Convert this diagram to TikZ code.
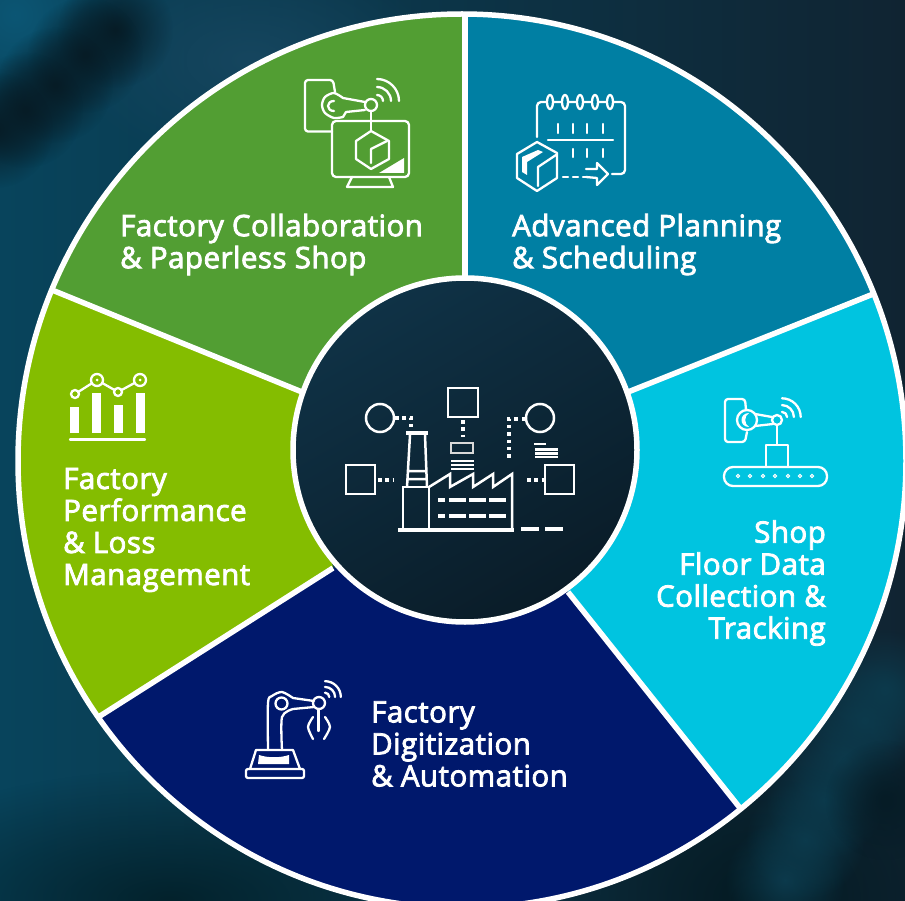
\documentclass[tikz,border=0pt]{standalone}
\usepackage{fontspec}
\setmainfont{Open Sans}[RawFeature={embolden=2.8}, LetterSpace=1.6]
\usetikzlibrary{fadings}
\definecolor{leafgreen}{HTML}{529E33}
\definecolor{petrol}{HTML}{007FA3}
\definecolor{skycyan}{HTML}{00C4E0}
\definecolor{deepnavy}{HTML}{00186C}
\definecolor{limegreen}{HTML}{84BD00}
\definecolor{bgleft}{RGB}{8,68,92}
\definecolor{bgright}{RGB}{16,36,50}
\definecolor{bgstreak}{RGB}{6,28,38}
\definecolor{bgcorner}{RGB}{12,86,116}
\definecolor{bgtop}{RGB}{22,70,95}
\definecolor{bglow}{RGB}{3,34,44}
\definecolor{bgdark}{RGB}{4,26,34}
\definecolor{bgglow}{RGB}{12,58,76}
\definecolor{discfrom}{RGB}{15,50,70}
\definecolor{discto}{RGB}{10,28,40}
\tikzfading[name=softblob, inner color=transparent!0, outer color=transparent!100]
\tikzset{
	sectorline/.style={white, line width=5.5},
	iconline/.style={white, line width=2.3, line cap=round, line join=round},
	dotline/.style={white, line width=3.5, dash pattern=on 3.5pt off 3.8pt},
	blob/.style={fill=#1, path fading=softblob, fit fading=true},
	labeltext/.style={text=white, inner sep=0pt, anchor=west, font=\fontsize{29.5}{32}\selectfont},
	wifi/.pic={
		\foreach \r in {6,14,22}
			\draw[iconline] (0,-\r) .. controls (0.55*\r,-\r) and (\r,-0.55*\r) .. (\r,0);
	}
}
\begin{document}
\begin{tikzpicture}[x=1pt,y=-1pt]
	\useasboundingbox (0,0) rectangle (905,901);
	% background
	\shade[left color=bgleft, right color=bgright] (0,0) rectangle (905,901);
	\fill[blob=bgcorner] (15,15) circle (110);
	\fill[blob=bgtop] (250,60) ellipse (190 and 110);
	\foreach \xa/\ya in {115/30,85/55,55/85,25/110,-5/130}
		\fill[blob=bgstreak] (\xa,\ya) circle (58);
	\fill[blob=bglow] (170,900) ellipse (320 and 130);
	\fill[blob=bgdark] (760,900) ellipse (240 and 190);
	\foreach \xa/\ya in {785/880,805/840,825/800,845/760,865/720,885/690}
		\fill[blob=bgglow] (\xa,\ya) circle (60);
	\fill[blob=bgstreak] (885,800) circle (60);
	% sectors
	\coordinate (hubtop) at (465,277);
	\coordinate (hubright) at (628,392);
	\coordinate (hublowright) at (568,592);
	\coordinate (hublowleft) at (333,568);
	\coordinate (hubleft) at (302,392);
	\coordinate (rimtop) at (465,14);
	\coordinate (rimright) at (872,294.5);
	\coordinate (rimlowright) at (740,808);
	\coordinate (rimlowleft) at (100,716);
	\coordinate (rimleft) at (52,290);
	\begin{scope}
		\clip (462,461) ellipse (444 and 447);
		\fill[leafgreen] (hubtop) -- (465,-100) -- (-73,-100) -- (-73,239) -- (hubleft) -- cycle;
		\fill[petrol] (hubtop) -- (465,-100) -- (995,-100) -- (995,246.5) -- (hubright) -- cycle;
		\fill[skycyan] (hubright) -- (995,246.5) -- (995,1024) -- (912,1024) -- (hublowright) -- cycle;
		\fill[deepnavy] (hublowright) -- (912,1024) -- (-16.5,1024) -- (-16.5,790) -- (hublowleft) -- cycle;
		\fill[limegreen] (hublowleft) -- (-16.5,790) -- (-73,790) -- (-73,239) -- (hubleft) -- cycle;
	\end{scope}
	\draw[sectorline] (462,461) ellipse (444 and 447);
	\foreach \side in {top,right,lowright,lowleft,left}
		\draw[sectorline] (hub\side) -- (rim\side);
	% middle disc
	\shade[left color=discfrom, right color=discto, shading angle=30] (465,450) circle (172);
	\draw[sectorline] (465,450) circle (172);

	% centre icon
	\begin{scope}[line width=2.5]
		\draw[white] (380,418) circle (14);
		\draw[white] (540,418) circle (14);
		\draw[white] (448,388) rectangle (478,417);
		\draw[white] (346,465) rectangle (375,494);
		\draw[white] (545,465) rectangle (574,494);
		\draw[white!85!black, line width=1.8] (451,443) rectangle (473,453);
		\draw[dotline] (395,418) -- (411,418) -- (411,428);
		\draw[dotline] (463,420) -- (463,437);
		\draw[dotline] (525,419) -- (509,419) -- (509,458);
		\draw[dotline] (378,480) -- (394,480);
		\draw[dotline] (527,480) -- (544,480);
		\foreach \y in {461,465,469}
			\draw[white] (451,\y) -- (474,\y);
		\draw[white] (534,444) -- (546,444);
		\foreach \y in {449.5,453.5,457}
			\draw[white] (535,\y) -- (558,\y);
		\fill[white] (406,431) rectangle (428,435);
		\draw[white] (410,435) -- (407,487) (425,435) -- (427,487) (408,471) -- (426,471) (408,479) -- (426,479);
		\draw[white] (403,529) |- (429,487) -- (429,529);
		\draw[white, line join=miter] (429,487) -- (450,474) -- (450,487) -- (473,474) -- (473,487) -- (493,474) -- (493,487) -- (512,474) -- (512,529);
		\draw[white, line width=3.5] (398,530) -- (514,530);
		\draw[white, line width=3.5] (521,529) -- (539,529) (545,529) -- (563,529);
		\foreach \y in {500,516}
			\draw[white, line width=4.5] (438,\y) -- (445,\y) (449,\y) -- (466,\y) (469,\y) -- (486,\y) (489,\y) -- (506,\y);
	\end{scope}

	% factory collaboration icon
	\draw[iconline, rounded corners=3] (335,92) -- (333,80) -- (305,80) -- (305,131.5) -- (332,131.5);
	\draw[iconline] plot[smooth] coordinates {(343,117) (334,118) (325,113) (322,105) (325,97) (334,93) (343,98)} -- (365,102);
	\draw[iconline] (365,110) -- (346,112) -- (343,117);
	\draw[iconline] (371,105) circle (6);
	\draw[iconline] (334,101) .. controls (326,101) and (326,111) .. (334,111);
	\draw[iconline, rounded corners=4] (332,121) rectangle (409,177);
	\draw[iconline] (371,111) -- (371,131);
	\draw[iconline] (371,131) -- (389,141) -- (389,159) -- (371,169) -- (356,159) -- (356,141) -- cycle;
	\draw[iconline] (371,163) -- (371,149) -- (387,141);
	\fill[white] (379,173) -- (404,158) -- (404,173) -- cycle;
	\draw[iconline] (352,177) -- (347,187) -- (393,187) -- (389,177);
	\pic at (377,101) {wifi};

	% planning icon
	\draw[iconline, rounded corners=4] (537,137) -- (537,102) -- (625,102) -- (625,174) -- (612,174);
	\foreach \x in {550,565,580,595,610}
		\draw[iconline, fill=petrol] (\x,102) ellipse (3 and 7);
	\foreach \x in {558,573,587,603}
		\draw[iconline] (\x,124) -- (\x,133);
	\foreach \x in {573,587,603}
		\draw[iconline] (\x,149) -- (\x,157);
	\draw[iconline] (548,140) -- (613,140);
	\draw[iconline, dash pattern=on 5pt off 5pt] (563,177) -- (586,177);
	\draw[iconline] (586,169) -- (597,169) -- (597,163) -- (608,174) -- (597,185) -- (597,178) -- (586,177);
	\draw[iconline] (537,142) -- (557,153) -- (557,178) -- (537,191) -- (517,178) -- (517,154) -- cycle;
	\draw[iconline] (538,186) -- (538,167) -- (556,155);
	\fill[white] (522,157) -- (538,150) -- (543,152) -- (527,162) -- (527,175) -- (522,172) -- cycle;

	% shop floor icon
	\draw[iconline, rounded corners=3] (746,410) -- (745,399) -- (725,399) -- (725,442) -- (745,442) -- (747,432);
	\draw[iconline] (747,420) circle (10);
	\fill[white] (749,413) .. controls (739,413) and (739,427) .. (749,427) .. controls (744,424) and (744,416) .. (749,413) -- cycle;
	\draw[iconline] (777,420) circle (5);
	\draw[iconline] (755,414) -- (772,417) (755,426) -- (773,424);
	\draw[iconline] (777,425) -- (777,445);
	\draw[iconline] (766,467) -- (766,445) -- (788,445) -- (788,467);
	\draw[iconline, rounded corners=9] (724,467) rectangle (827,486);
	\foreach \x in {738,750,763,775,788,800,812}
		\draw[white, line width=1] (\x,476) circle (1.6);
	\pic[scale=.85] at (782,417) {wifi};

	% digitization icon
	\draw[iconline, rounded corners=2] (246,769) rectangle (304,778);
	\draw[iconline] (250,769) -- (256,750) -- (293,750) -- (300,769);
	\fill[white] (259,755) .. controls (268,758) and (280,758) .. (289,755) -- (289,764) -- (258,764) -- cycle;
	\draw[iconline] plot[smooth] coordinates {(268,750) (268,703) (272,696) (282,692) (293,698)} -- (314,701);
	\draw[iconline] plot[smooth] coordinates {(282,750) (282,717) (293,709)} -- (314,707);
	\draw[iconline] (281.5,703.5) circle (6);
	\draw[iconline] (319,703) circle (6);
	\draw[iconline] (318.5,709) -- (318.5,731);
	\draw[iconline] plot[smooth] coordinates {(313,717) (308,727) (313,739)};
	\draw[iconline] plot[smooth] coordinates {(325,717) (330,727) (324,739)};
	\pic[scale=.72] at (325,697) {wifi};

	% performance icon
	\foreach \xa/\ya in {70/407,92/393,114/405,136/393}
		\fill[white] (\xa,\ya) rectangle (\xa+9,433);
	\draw[iconline] (70,439.5) -- (145,439.5);
	\draw[iconline] (75,394) -- (97,380) -- (118,392) -- (140,380);
	\foreach \xa/\ya/\ra in {75/394/4,97/380/6,118/392/4,140/380/6}
		\draw[iconline, fill=limegreen] (\xa,\ya) circle (\ra);
	\foreach \xa in {97,140}
		\fill[white] (\xa,380) circle (1.5);

	% labels
	\node[labeltext, align=left] (collab) at (120,244.5) {Factory Collaboration\\\& Paperless Shop};
	\node[labeltext, align=left] (planning) at (512,244.5) {Advanced Planning\\\& Scheduling};
	\node[labeltext, align=right, anchor=east] (shopfloor) at (826,583) {Shop\\Floor Data\\Collection \&\\Tracking};
	\node[labeltext, align=left] (digit) at (371,744) {Factory\\Digitization\\\& Automation};
	\node[labeltext, align=left] (perf) at (63,530) {Factory\\Performance\\\& Loss\\Management};
\end{tikzpicture}
\end{document}
